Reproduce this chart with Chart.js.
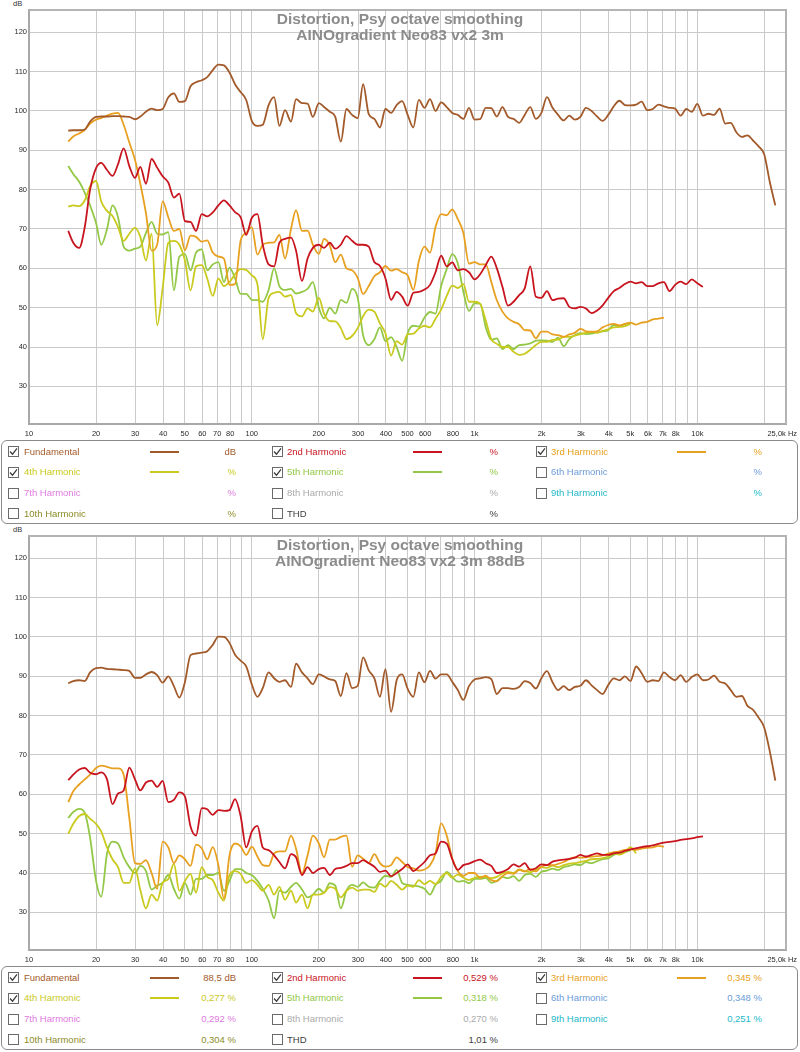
<!DOCTYPE html>
<html>
<head>
<meta charset="utf-8">
<script src="https://cdn.jsdelivr.net/npm/chart.js@4.4.1/dist/chart.umd.min.js"></script>
<style>
  body { margin: 0; background: #fff; font-family: "Liberation Sans", Arial, sans-serif; }
  #page { position: relative; width: 800px; height: 1052px; overflow: hidden; }
  canvas { position: absolute; left: 0; }
  .title { position: absolute; left: 0; width: 800px; text-align: center; font-weight: bold;
           font-size: 15.5px; line-height: 16.5px; color: #8c8c8c; }
  .unit { position: absolute; left: 13px; font-size: 7.5px; color: #333; }
  .legend { position: absolute; left: 1px; width: 795px; height: 82px; border: 1px solid #8a8a8a; border-radius: 6px; }
  .legend .txt { position: absolute; height: 20px; line-height: 20px; font-size: 9.5px; white-space: nowrap; }
  .legend .val { text-align: right; width: 80px; }
  .legend .sw { position: absolute; height: 2px; }
  .legend svg { position: absolute; }
</style>
</head>
<body>
<div id="page">
  <div class="unit" style="top:-1px">dB</div>
  <canvas id="chartTop" width="800" height="440" style="top:0"></canvas>
  <div class="title" style="top:10.75px">Distortion, Psy octave smoothing<br>AINOgradient Neo83 vx2 3m</div>

  <div class="unit" style="top:525px">dB</div>
  <canvas id="chartBottom" width="800" height="440" style="top:526px"></canvas>
  <div class="title" style="top:536.75px">Distortion, Psy octave smoothing<br>AINOgradient Neo83 vx2 3m 88dB</div>
</div>
<script>
// sample frequencies (Hz), shared by all traces
const freq = [
  15.0, 15.8, 16.8, 17.8, 18.8, 20.0, 21.1, 22.4, 23.7, 25.1,
  26.6, 28.2, 29.9, 31.6, 33.5, 35.5, 37.6, 39.8, 42.2, 44.7,
  47.3, 50.1, 53.1, 56.2, 59.6, 63.1, 66.8, 70.8, 75.0, 79.4,
  84.1, 89.1, 94.4, 100, 106, 112, 119, 126, 133, 141,
  150, 158, 168, 178, 188, 200, 211, 224, 237, 251,
  266, 282, 299, 316, 335, 355, 376, 398, 422, 447,
  473, 501, 531, 562, 596, 631, 668, 708, 750, 794,
  841, 891, 944, 1000, 1059, 1122, 1189, 1259, 1334, 1413,
  1496, 1585, 1679, 1778, 1884, 1995, 2113, 2239, 2371, 2512,
  2661, 2818, 2985, 3162, 3350, 3548, 3758, 3981, 4217, 4467,
  4732, 5012, 5309, 5623, 5957, 6310, 6683, 7079, 7499, 7943,
  8414, 8913, 9441, 10000, 10593, 11220, 11885, 12589, 13335, 14125,
  14962, 15849, 16788, 17783, 18836, 19953, 21135, 22387
];

// top chart (3m)
const fundTop = [
  95.0, 95.1, 95.1, 95.3, 97.3, 98.5, 98.6, 98.6, 98.7, 98.7,
  98.6, 98.5, 97.9, 98.6, 99.8, 100.6, 100.2, 100.5, 103.5, 104.5,
  102.3, 102.5, 106.3, 107.3, 107.8, 108.6, 110.4, 111.8, 111.6, 109.8,
  106.8, 104.8, 102.8, 97.5, 96.2, 96.5, 101.5, 103.5, 96.2, 100.2,
  97.3, 103.0, 102.0, 101.9, 98.5, 102.0, 101.0, 99.8, 98.5, 92.2,
  100.5, 99.0, 98.2, 106.8, 99.2, 98.0, 95.8, 100.5, 99.5, 101.5,
  102.5, 99.0, 95.8, 102.8, 100.8, 103.0, 100.0, 102.2, 101.0, 99.5,
  99.0, 98.0, 100.8, 97.8, 97.9, 100.8, 100.7, 98.6, 101.0, 98.5,
  98.0, 97.0, 99.0, 101.0, 98.0, 99.5, 103.5, 100.8, 99.0, 97.6,
  98.8, 97.8, 98.5, 100.8, 100.0, 98.6, 97.5, 99.0, 101.2, 102.6,
  101.5, 101.4, 101.6, 102.4, 100.2, 100.5, 101.6, 101.2, 100.8, 100.6,
  98.8, 100.5, 99.8, 101.8, 98.8, 99.3, 99.0, 100.6, 96.8, 97.0,
  94.6, 93.4, 93.8, 92.5, 91.0, 89.0, 82.0, 76.0
];
const h2Top = [
  69.5, 66.5, 65.2, 70.5, 80.0, 85.5, 86.8, 85.0, 83.5, 86.5,
  90.5, 86.0, 83.0, 85.8, 81.5, 87.8, 85.6, 83.4, 81.8, 78.0,
  79.0, 72.0, 71.8, 69.5, 73.8, 73.2, 74.2, 76.0, 77.3, 76.0,
  74.3, 73.0, 68.5, 72.8, 73.8, 66.0, 61.0, 60.5, 66.5, 67.5,
  67.8, 64.5, 56.8, 62.5, 65.2, 66.0, 65.2, 66.5, 65.0, 66.0,
  68.2, 67.0, 66.0, 66.0, 65.5, 61.6, 60.6, 57.5, 52.0, 54.0,
  52.8, 50.5, 53.8, 54.0, 54.6, 55.8, 59.0, 63.2, 60.5, 61.5,
  59.5, 59.8, 59.0, 57.2, 58.5, 60.8, 63.0, 60.0, 55.3, 50.5,
  51.5, 53.2, 54.9, 60.5, 52.8, 52.5, 54.2, 51.9, 52.3, 52.4,
  50.2, 49.8, 50.2, 49.8, 48.6, 49.3, 50.6, 52.5, 54.2, 55.0,
  56.0, 56.6, 56.2, 56.5, 55.5, 55.5, 56.2, 56.5, 54.2, 55.8,
  56.6, 56.0, 57.2, 56.2, 55.3
];
const h3Top = [
  92.2, 93.5, 94.3, 95.2, 96.8, 97.8, 98.2, 98.8, 99.3, 99.5,
  96.5, 92.0, 87.6, 81.5, 74.0, 64.5, 66.0, 77.0, 73.0, 69.5,
  70.0, 64.6, 68.3, 68.0, 66.8, 67.1, 64.0, 63.0, 62.5, 55.8,
  56.0, 67.0, 69.0, 70.5, 63.5, 66.0, 66.5, 66.6, 68.5, 62.5,
  70.0, 74.8, 69.5, 69.6, 66.0, 63.7, 67.5, 65.8, 61.6, 63.5,
  60.0, 59.5, 57.5, 53.5, 55.5, 58.0, 59.0, 60.6, 59.4, 59.8,
  59.0, 58.2, 54.5, 61.8, 65.5, 64.0, 70.5, 73.8, 73.5, 75.0,
  72.5, 69.0, 61.2, 61.6, 61.0, 61.0, 56.5, 51.9, 49.0, 47.3,
  46.4, 45.8, 44.3, 44.2, 42.2, 43.9, 43.9, 43.2, 43.0, 42.6,
  43.2, 43.6, 44.6, 44.0, 43.9, 44.0, 45.0, 45.6, 45.9, 45.5,
  45.9, 46.2, 45.7, 46.2, 46.4, 47.0, 47.2, 47.5
];
const h4Top = [
  75.7, 76.0, 75.8, 77.3, 80.8, 82.2, 77.0, 74.6, 73.3, 70.5,
  67.0, 68.8, 70.3, 68.0, 62.0, 68.8, 45.5, 55.0, 66.5, 67.0,
  66.0, 62.0, 54.4, 60.5, 60.8, 57.4, 53.0, 57.4, 55.5, 56.5,
  58.5, 59.8, 59.6, 58.2, 56.0, 42.0, 52.5, 53.8, 54.0, 52.8,
  53.2, 48.6, 47.8, 49.8, 49.0, 52.5, 48.5, 46.6, 46.5, 44.8,
  42.0, 42.8, 44.8, 47.8, 49.5, 49.0, 46.0, 43.5, 37.8, 41.5,
  40.6, 43.2, 43.4, 44.7, 45.4, 45.0, 47.2, 49.5, 53.0, 55.6,
  55.0, 56.0, 51.5, 51.5, 51.0, 46.8, 42.0, 40.8, 40.0, 40.0,
  38.8, 38.0, 38.3, 39.3, 40.5, 41.3, 41.3, 41.8, 41.9, 42.6,
  42.6, 42.9, 43.3, 43.6, 43.8, 43.6, 44.1, 44.5, 45.0, 45.1,
  45.3, 45.9
];
const h5Top = [
  86.0, 84.0, 82.0, 79.2, 76.0, 71.5, 66.0, 70.0, 76.0, 73.0,
  65.5, 64.5, 65.0, 65.5, 69.0, 71.8, 68.8, 68.6, 69.2, 54.4,
  63.0, 63.6, 59.5, 64.0, 64.8, 59.5, 61.0, 61.6, 56.5, 60.2,
  57.5, 53.5, 53.5, 52.0, 51.9, 51.5, 54.5, 60.0, 55.5, 54.5,
  54.8, 53.6, 54.0, 54.8, 56.5, 50.0, 47.3, 50.0, 48.5, 52.0,
  51.2, 54.8, 52.5, 43.0, 40.5, 42.0, 45.0, 41.5, 42.5, 40.0,
  36.5, 43.5, 45.4, 45.2, 47.5, 48.9, 48.5, 55.5, 59.8, 63.6,
  61.2, 54.0, 49.2, 51.1, 51.0, 45.1, 41.8, 42.2, 39.5, 40.5,
  39.5, 40.5, 40.6, 40.9, 41.6, 41.7, 41.6, 41.3, 42.4, 40.2,
  42.0, 43.0, 43.5, 43.3, 43.4, 43.8, 44.0, 44.3, 45.6, 45.3,
  45.8, 46.0
];

// bottom chart (3m 88dB)
const fundBottom = [
  88.2, 88.8, 89.0, 88.8, 91.0, 92.1, 92.2, 91.9, 91.8, 91.7,
  91.6, 91.4, 89.6, 89.6, 90.5, 91.1, 90.3, 88.4, 90.0, 87.5,
  84.6, 88.5, 95.4, 95.8, 96.0, 96.4, 98.0, 100.1, 100.0, 98.5,
  95.5, 94.0, 92.5, 88.0, 84.8, 87.0, 91.0, 89.5, 88.6, 89.0,
  87.3, 93.2, 91.0, 89.5, 88.0, 90.5, 90.0, 89.2, 88.8, 85.0,
  90.8, 87.0, 87.6, 94.8, 91.5, 89.5, 84.8, 91.8, 81.0, 89.0,
  90.5, 86.8, 84.8, 91.0, 88.5, 91.4, 89.4, 90.5, 90.5, 88.6,
  86.5, 84.0, 87.5, 89.2, 89.5, 89.8, 89.3, 85.5, 87.0, 87.0,
  86.8, 87.3, 88.8, 88.3, 86.9, 89.5, 91.3, 88.5, 86.5, 87.5,
  86.5, 87.3, 87.6, 89.0, 87.7, 86.5, 85.5, 87.8, 89.5, 89.0,
  90.0, 88.8, 92.5, 90.8, 88.6, 89.0, 88.8, 91.0, 89.8, 89.0,
  90.3, 88.6, 89.8, 90.5, 89.0, 89.2, 90.2, 88.6, 88.2, 86.5,
  84.8, 85.0, 82.5, 81.5, 79.5, 77.0, 71.0, 63.5
];
const h2Bottom = [
  63.6, 65.0, 66.3, 66.7, 65.5, 65.1, 65.6, 63.8, 57.5, 60.2,
  61.0, 66.8, 63.8, 61.0, 63.0, 63.5, 61.9, 63.4, 58.0, 58.6,
  60.5, 59.5, 51.8, 49.5, 56.5, 56.2, 54.8, 56.0, 55.8, 56.0,
  58.8, 54.5, 46.5, 50.5, 52.0, 46.5, 45.8, 44.5, 42.8, 41.2,
  44.8, 44.0, 39.5, 41.5, 40.0, 41.0, 41.3, 39.5, 41.0, 41.3,
  41.8, 42.5, 42.5, 43.3, 42.5, 41.6, 40.3, 40.6, 39.2, 40.0,
  41.0, 42.2, 40.5, 41.5, 42.8, 44.5, 45.0, 48.0, 47.5, 43.5,
  40.8, 42.0, 42.4, 43.0, 43.4, 42.5, 41.8, 40.0, 40.3, 41.0,
  42.2, 41.6, 42.5, 40.8, 41.2, 42.2, 42.0, 42.9, 43.2, 43.4,
  43.6, 43.9, 44.6, 44.2, 44.6, 45.0, 44.6, 44.6, 45.0, 45.2,
  45.6, 46.0, 46.3, 46.6, 46.8, 47.0, 47.4, 47.7, 47.9, 48.1,
  48.4, 48.6, 48.8, 49.1, 49.3
];
const h3Bottom = [
  58.0, 60.8, 62.5, 63.8, 65.0, 66.7, 67.3, 67.0, 66.6, 66.6,
  65.0, 54.0, 42.5, 42.3, 43.3, 40.0, 36.0, 48.0, 46.5, 42.5,
  44.5, 43.5, 41.8, 47.2, 46.3, 43.5, 46.6, 42.0, 33.5, 44.5,
  47.5, 46.8, 44.6, 46.7, 44.2, 42.0, 41.8, 45.0, 45.5, 45.5,
  49.5, 46.2, 39.9, 44.5, 49.5, 47.5, 44.0, 48.5, 48.5, 49.2,
  49.5, 41.6, 44.5, 43.6, 42.5, 44.8, 42.5, 41.6, 42.0, 44.0,
  42.8, 41.5, 41.2, 40.6, 40.9, 42.0, 45.0, 52.6, 49.5, 43.7,
  40.5, 39.3, 40.0, 40.0, 38.7, 39.3, 38.2, 37.9, 39.2, 40.0,
  39.8, 40.8, 40.4, 41.0, 40.4, 41.6, 42.0, 42.0, 42.3, 42.8,
  43.5, 44.0, 43.9, 44.0, 44.2, 44.3, 44.5, 44.9, 45.3, 45.5,
  45.9, 46.0, 45.9, 46.2, 46.4, 46.5, 46.9, 46.7
];
const h4Bottom = [
  50.0, 52.5, 54.5, 55.0, 53.8, 52.5, 50.5, 46.5, 43.5, 41.5,
  37.5, 37.5, 41.2, 35.7, 31.0, 34.5, 33.0, 37.5, 38.5, 42.3,
  35.5, 38.0, 39.8, 35.0, 41.5, 39.0, 38.2, 35.0, 33.0, 39.5,
  40.5, 39.8, 37.5, 38.2, 37.0, 35.5, 37.0, 34.5, 36.5, 33.2,
  35.5, 32.5, 34.5, 31.0, 34.5, 34.5, 35.0, 36.4, 36.0, 33.8,
  35.5, 36.3, 35.5, 35.8, 35.8, 35.2, 37.3, 36.5, 38.0, 37.0,
  35.8, 36.8, 36.5, 38.2, 37.2, 38.0, 37.2, 39.0, 40.0, 38.8,
  39.6, 38.8, 38.2, 38.8, 39.1, 39.0, 38.7, 39.0, 39.9, 40.3,
  40.0, 40.9, 40.5, 40.2, 40.8, 41.5, 41.3, 41.9, 41.5, 42.0,
  42.4, 42.5, 42.8, 43.1, 43.5, 43.6, 43.8, 44.2, 45.0, 44.7,
  45.3, 46.6, 45.0
];
const h5Bottom = [
  54.0, 55.5, 56.3, 55.3, 49.0, 38.0, 34.0, 45.0, 48.0, 47.5,
  44.0, 41.5, 40.0, 41.8, 40.5, 35.8, 36.8, 37.5, 39.5, 36.0,
  33.5, 37.5, 34.5, 38.5, 38.5, 39.5, 39.5, 40.0, 35.5, 38.0,
  41.0, 41.0, 40.0, 39.5, 38.0, 36.0, 33.0, 28.5, 35.5, 35.0,
  36.5, 37.5, 35.8, 33.8, 34.5, 36.0, 35.0, 37.4, 36.8, 31.0,
  35.5, 37.0, 36.5, 37.6, 36.5, 36.3, 38.0, 39.3, 39.0, 40.8,
  37.5, 37.0, 36.8, 36.6, 36.0, 34.5, 37.0, 38.0, 40.3, 39.0,
  37.8, 38.0, 37.4, 38.5, 38.5, 38.8, 37.5, 38.0, 39.0, 38.7,
  39.2, 38.0, 39.5, 39.8, 39.0, 40.3, 40.6, 41.1, 40.8, 41.5,
  41.8, 42.2, 42.0, 42.8, 42.5, 43.0, 43.5, 43.7, 44.6, 45.0,
  45.3, 45.8
];

// axes
const yTicks = [30, 40, 50, 60, 70, 80, 90, 100, 110, 120];
const xGrid = [10, 20, 30, 40, 50, 60, 70, 80, 90,
  100, 200, 300, 400, 500, 600, 700, 800, 900,
  1000, 2000, 3000, 4000, 5000, 6000, 7000, 8000, 9000,
  10000, 20000, 25000];
const xLabels = ["10", "20", "30", "40", "50", "60", "70", "80", "",
  "100", "200", "300", "400", "500", "600", "", "800", "",
  "1k", "2k", "3k", "4k", "5k", "6k", "7k", "8k", "",
  "10k", "", "25,0k Hz\u2002\u2002"];

// legend
const legendNames = ["Fundamental", "2nd Harmonic", "3rd Harmonic", "4th Harmonic", "5th Harmonic",
  "6th Harmonic", "7th Harmonic", "8th Harmonic", "9th Harmonic", "10th Harmonic", "THD"];
const legendColors = ["#a35a2a", "#c8141e", "#e8a020", "#c9c91e", "#92c846",
  "#6b9bd8", "#e07be0", "#aaaaaa", "#22b8c8", "#8c8c28", "#404040"];
const legendChecked = [true, true, true, true, true, false, false, false, false, false, false];
const unitsTop = ["dB", "%", "%", "%", "%", "%", "%", "%", "%", "%", "%"];
const valuesBottom = ["88,5 dB", "0,529 %", "0,345 %", "0,277 %", "0,318 %", "0,348 %",
  "0,292 %", "0,270 %", "0,251 %", "0,304 %", "1,01 %"];

const FONT = "'Liberation Sans', Arial, sans-serif";

const framePlugin = {
    id: "frame",
    afterDraw(chart) {
        const a = chart.chartArea;
        const c = chart.ctx;
        c.save();
        c.strokeStyle = "#b4b4b4";
        c.lineWidth = 2;
        c.beginPath();
        c.moveTo(a.left, a.top);
        c.lineTo(a.right, a.top);
        c.lineTo(a.right, a.bottom);
        c.stroke();
        c.restore();
    }
};

function makeChart(id, traces) {
    const datasets = traces.map((values, k) => ({
        data: values.map((v, i) => ({ x: freq[i], y: v })),
        borderColor: legendColors[k],
        borderWidth: 1.8,
        pointRadius: 0,
        fill: false,
        cubicInterpolationMode: "monotone"
    }));

    return new Chart(document.getElementById(id), {
        type: "line",
        data: { datasets: datasets },
        plugins: [framePlugin],
        options: {
            responsive: false,
            animation: false,
            devicePixelRatio: 1,
            layout: { padding: { top: 10, right: 14, left: 0, bottom: 0 } },
            plugins: { legend: { display: false }, tooltip: { enabled: false } },
            scales: {
                x: {
                    type: "logarithmic",
                    min: 10,
                    max: 25000,
                    afterBuildTicks: (scale) => { scale.ticks = xGrid.map(v => ({ value: v })); },
                    afterFit: (scale) => { scale.height = 16; scale.paddingLeft = 0; scale.paddingRight = 0; },
                    grid: { color: "#cacaca", lineWidth: 1, drawTicks: false },
                    border: { color: "#a8a8a8", width: 2 },
                    ticks: {
                        autoSkip: false,
                        maxRotation: 0,
                        minRotation: 0,
                        padding: 5,
                        color: "#2a2a2a",
                        font: { size: 7.5, family: FONT },
                        callback: (value) => {
                            const i = xGrid.indexOf(value);
                            return i >= 0 ? xLabels[i] : "";
                        }
                    }
                },
                y: {
                    min: 20.43,
                    max: 125.67,
                    afterBuildTicks: (scale) => { scale.ticks = yTicks.map(v => ({ value: v })); },
                    afterFit: (scale) => { scale.width = 29; scale.paddingTop = 0; scale.paddingBottom = 0; },
                    grid: { color: "#cacaca", lineWidth: 1, drawTicks: false },
                    border: { color: "#a8a8a8", width: 2 },
                    ticks: { padding: 2, color: "#2a2a2a", font: { size: 7.5, family: FONT } }
                }
            }
        }
    });
}

function checkbox(on) {
    let svg = '<svg width="11" height="11" viewBox="0 0 11 11">' +
        '<rect x="0.5" y="0.5" width="10" height="10" fill="#fff" stroke="#6a6a6a"/>';
    if (on) svg += '<polyline points="2,5.5 4.5,8.2 9,2.4" fill="none" stroke="#3a3a3a" stroke-width="1.2"/>';
    return svg + "</svg>";
}

function buildLegend(top, rightTexts) {
    const box = document.createElement("div");
    box.className = "legend";
    box.style.top = top + "px";

    const boxX = [6, 270, 534];
    const textX = [22, 285, 549];
    const swatchX = [148, 411, 675];
    const valueRight = [234, 496, 760];

    let html = "";
    legendNames.forEach((name, i) => {
        const row = Math.floor(i / 3);
        const col = i % 3;
        const cy = 10.7 + row * 20.7;
        const color = legendColors[i];
        html += `<div style="position:absolute;left:${boxX[col]}px;top:${cy - 5.5}px;width:11px;height:11px">${checkbox(legendChecked[i])}</div>`;
        html += `<div class="txt" style="left:${textX[col]}px;top:${cy - 10}px;color:${color}">${name}</div>`;
        if (legendChecked[i]) {
            html += `<div class="sw" style="left:${swatchX[col]}px;top:${cy - 1}px;width:29px;background:${color}"></div>`;
        }
        html += `<div class="txt val" style="left:${valueRight[col] - 80}px;top:${cy - 10}px;color:${color}">${rightTexts[i]}</div>`;
    });
    box.innerHTML = html;
    document.getElementById("page").appendChild(box);
}

makeChart("chartTop", [fundTop, h2Top, h3Top, h4Top, h5Top]);
makeChart("chartBottom", [fundBottom, h2Bottom, h3Bottom, h4Bottom, h5Bottom]);
buildLegend(440, unitsTop);
buildLegend(966, valuesBottom);
</script>
</body>
</html>
